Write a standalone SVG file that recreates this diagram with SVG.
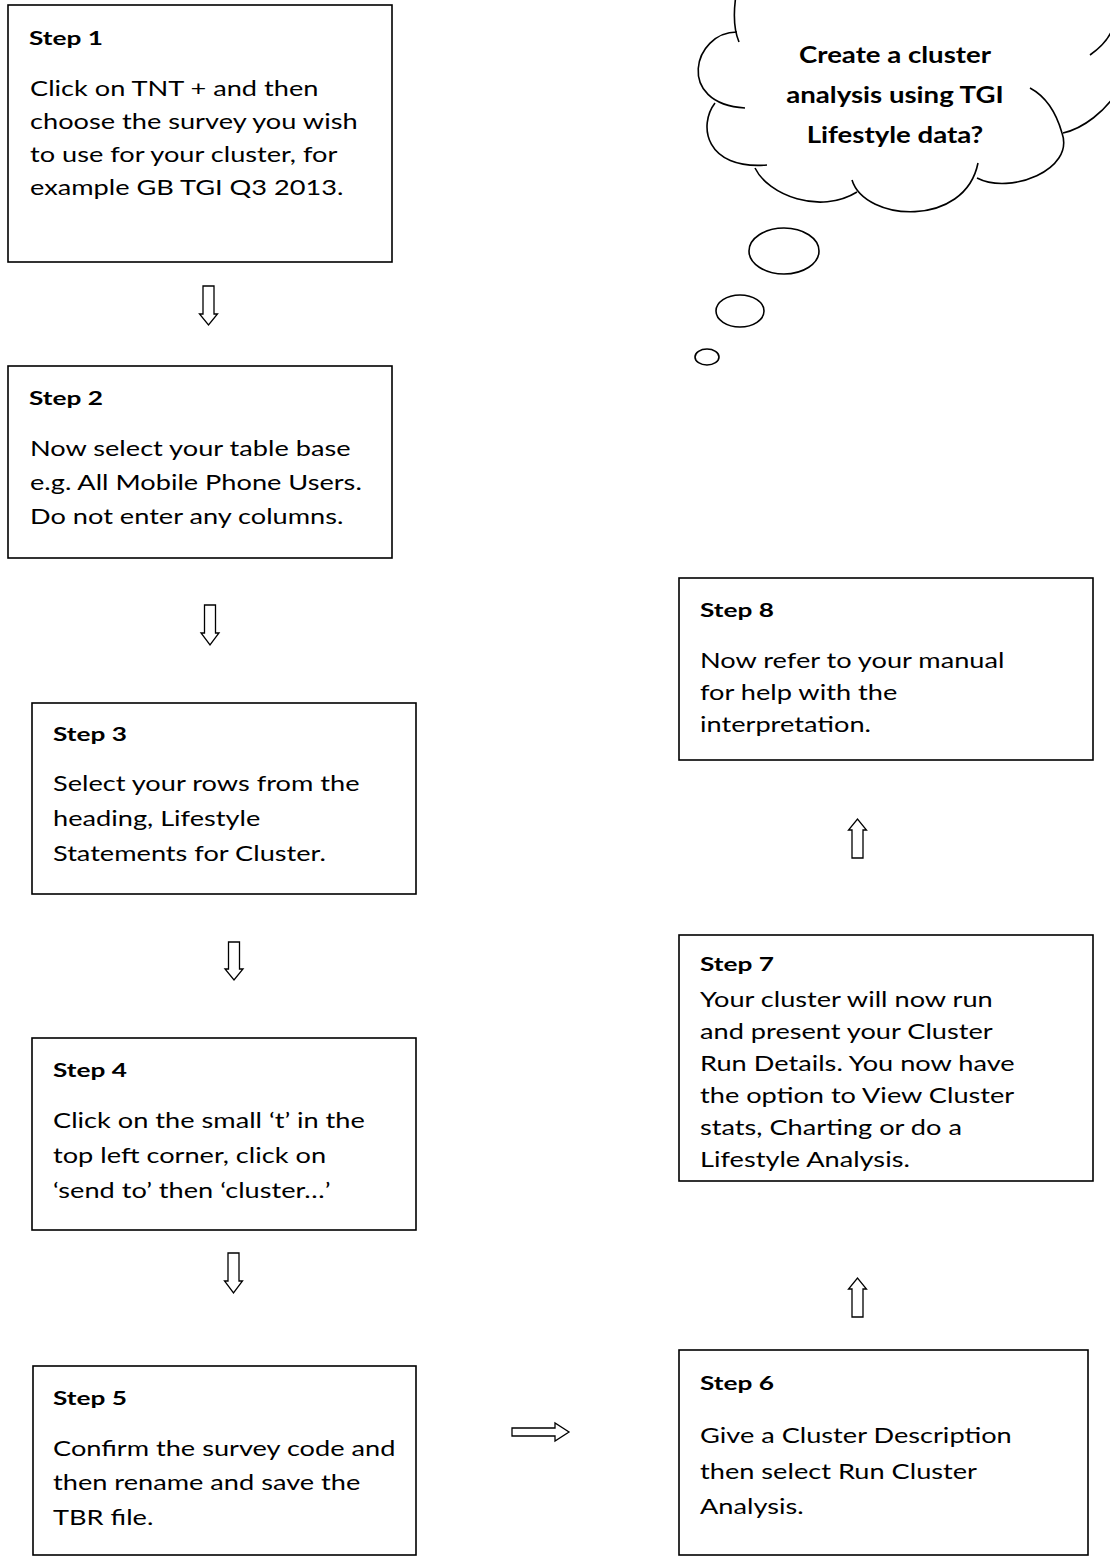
<svg xmlns="http://www.w3.org/2000/svg" width="1110" height="1560" viewBox="0 0 1110 1560">
<style>
.box{fill:#fff;stroke:#000;stroke-width:1.6}
.h{font-family:Lato,"Liberation Sans",sans-serif;font-weight:700;font-size:19px;fill:#000}
.b{font-family:Lato,"Liberation Sans",sans-serif;font-size:22px;fill:#000}
.ct{font-family:Lato,"Liberation Sans",sans-serif;font-weight:700;font-size:23px;fill:#000;text-anchor:middle}
.arr{fill:#fff;stroke:#000;stroke-width:1.3;stroke-linejoin:miter}
.cl{fill:none;stroke:#000;stroke-width:1.6}
</style>
<rect width="1110" height="1560" fill="#fff"/>

<g id="thought">
<path class="cl" d="M736,-5 C733,15 734,30 739,42"/>
<path class="cl" d="M737,32 C693,32 675,104 745,108"/>
<path class="cl" d="M715,103 C698,125 705,170 767,165"/>
<path class="cl" d="M755,168 C768,195 820,215 857,192"/>
<path class="cl" d="M852,180 C865,222 965,228 978,163"/>
<path class="cl" d="M977,178 C1010,195 1075,170 1062,133 C1056,112 1045,96 1030,88"/>
<path class="cl" d="M1063,133 C1085,128 1105,110 1115,95"/>
<path class="cl" d="M1090,55 C1100,48 1108,40 1112,30"/>
<ellipse class="cl" cx="784" cy="251" rx="35" ry="23"/>
<ellipse class="cl" cx="740" cy="311" rx="24" ry="16"/>
<ellipse class="cl" cx="707" cy="357" rx="12" ry="8"/>
<text class="ct" transform="translate(895,0) scale(1.2,1)"><tspan x="0" y="63">Create a cluster</tspan><tspan x="0" y="103">analysis using TGI</tspan><tspan x="0" y="143">Lifestyle data?</tspan></text>
</g>

<g id="step1">
<rect class="box" x="8" y="5" width="384" height="257"/>
<text class="h" transform="translate(29,0) scale(1.38,1)"><tspan x="0" y="45">Step 1</tspan></text>
<text class="b" transform="translate(30,0) scale(1.235,1)"><tspan x="0" y="96">Click on TNT + and then</tspan><tspan x="0" y="129">choose the survey you wish</tspan><tspan x="0" y="162">to use for your cluster, for</tspan><tspan x="0" y="195">example GB TGI Q3 2013.</tspan></text>
</g>

<g id="step2">
<rect class="box" x="8" y="366" width="384" height="192"/>
<text class="h" transform="translate(29,0) scale(1.38,1)"><tspan x="0" y="405">Step 2</tspan></text>
<text class="b" transform="translate(30,0) scale(1.235,1)"><tspan x="0" y="456">Now select your table base</tspan><tspan x="0" y="490">e.g. All Mobile Phone Users.</tspan><tspan x="0" y="524">Do not enter any columns.</tspan></text>
</g>

<g id="step3">
<rect class="box" x="32" y="703" width="384" height="191"/>
<text class="h" transform="translate(53,0) scale(1.38,1)"><tspan x="0" y="741">Step 3</tspan></text>
<text class="b" transform="translate(53,0) scale(1.235,1)"><tspan x="0" y="791">Select your rows from the</tspan><tspan x="0" y="826">heading, Lifestyle</tspan><tspan x="0" y="861">Statements for Cluster.</tspan></text>
</g>

<g id="step4">
<rect class="box" x="32" y="1038" width="384" height="192"/>
<text class="h" transform="translate(53,0) scale(1.38,1)"><tspan x="0" y="1077">Step 4</tspan></text>
<text class="b" transform="translate(53,0) scale(1.235,1)"><tspan x="0" y="1128">Click on the small ‘t’ in the</tspan><tspan x="0" y="1163">top left corner, click on</tspan><tspan x="0" y="1198">‘send to’ then ‘cluster…’</tspan></text>
</g>

<g id="step5">
<rect class="box" x="33" y="1366" width="383" height="189"/>
<text class="h" transform="translate(53,0) scale(1.38,1)"><tspan x="0" y="1405">Step 5</tspan></text>
<text class="b" transform="translate(53,0) scale(1.235,1)"><tspan x="0" y="1456">Confirm the survey code and</tspan><tspan x="0" y="1490">then rename and save the</tspan><tspan x="0" y="1525">TBR file.</tspan></text>
</g>

<g id="step6">
<rect class="box" x="679" y="1350" width="409" height="205"/>
<text class="h" transform="translate(700,0) scale(1.38,1)"><tspan x="0" y="1390">Step 6</tspan></text>
<text class="b" transform="translate(700,0) scale(1.235,1)"><tspan x="0" y="1443">Give a Cluster Description</tspan><tspan x="0" y="1479">then select Run Cluster</tspan><tspan x="0" y="1514">Analysis.</tspan></text>
</g>

<g id="step7">
<rect class="box" x="679" y="935" width="414" height="246"/>
<text class="h" transform="translate(700,0) scale(1.38,1)"><tspan x="0" y="971">Step 7</tspan></text>
<text class="b" transform="translate(700,0) scale(1.235,1)"><tspan x="0" y="1007">Your cluster will now run</tspan><tspan x="0" y="1039">and present your Cluster</tspan><tspan x="0" y="1071">Run Details. You now have</tspan><tspan x="0" y="1103">the option to View Cluster</tspan><tspan x="0" y="1135">stats, Charting or do a</tspan><tspan x="0" y="1167">Lifestyle Analysis.</tspan></text>
</g>

<g id="step8">
<rect class="box" x="679" y="578" width="414" height="182"/>
<text class="h" transform="translate(700,0) scale(1.38,1)"><tspan x="0" y="617">Step 8</tspan></text>
<text class="b" transform="translate(700,0) scale(1.235,1)"><tspan x="0" y="668">Now refer to your manual</tspan><tspan x="0" y="700">for help with the</tspan><tspan x="0" y="732">interpretation.</tspan></text>
</g>

<g id="connectors">
<polygon class="arr" points="203,286 214,286 214,314 217.5,314 208.5,325 199.5,314 203,314"/>
<polygon class="arr" points="204.5,605 215.5,605 215.5,633 219,633 210,645 201,633 204.5,633"/>
<polygon class="arr" points="228.5,942 239.5,942 239.5,969 243,969 234,980 225,969 228.5,969"/>
<polygon class="arr" points="228,1253 239,1253 239,1281 242.5,1281 233.5,1293 224.5,1281 228,1281"/>
<polygon class="arr" points="512,1428 555,1428 555,1423 569,1432 555,1441 555,1436 512,1436"/>
<polygon class="arr" points="852,1317 863,1317 863,1289 866.5,1289 857.5,1278 848.5,1289 852,1289"/>
<polygon class="arr" points="852,858 863,858 863,830 866.5,830 857.5,819 848.5,830 852,830"/>
</g>
</svg>
